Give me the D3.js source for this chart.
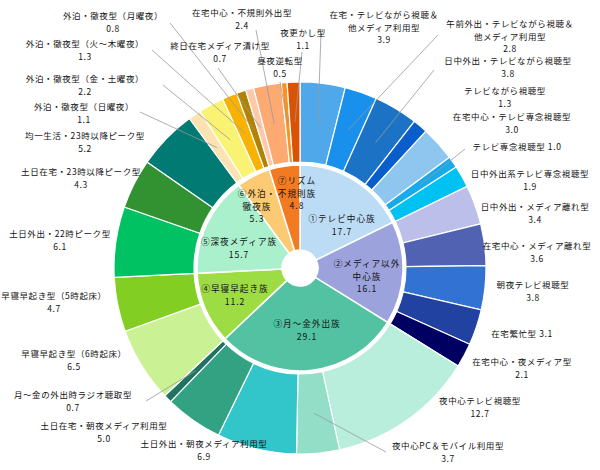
<!DOCTYPE html>
<html>
<head>
<meta charset="utf-8">
<script src="https://cdn.jsdelivr.net/npm/d3@7"></script>
<style>
  body { margin: 0; background: #fff; }
  text { font-family: "Noto Sans CJK JP", "Noto Sans", sans-serif; fill: #111; }
</style>
</head>
<body>
<div id="chart"></div>
<script>
// inner ring: 7 groups
const groupNames = ["①テレビ中心族", "②メディア以外|中心族", "③月～金外出族", "④早寝早起き族",
  "⑤深夜メディア族", "⑥外泊・|徹夜族", "⑦リズム|不規則族"];
const groupValues = [17.7, 16.1, 29.1, 11.2, 15.7, 5.3, 4.8];

// outer ring: 30 types
const leafNames = [
  "在宅・テレビながら視聴＆|他メディア利用型", "午前外出・テレビながら視聴＆|他メディア利用型",
  "日中外出・テレビながら視聴型", "テレビながら視聴型", "在宅中心・テレビ専念視聴型",
  "テレビ専念視聴型", "日中外出系テレビ専念視聴型",
  "日中外出・メディア離れ型", "在宅中心・メディア離れ型", "朝夜テレビ視聴型", "在宅繁忙型",
  "在宅中心・夜メディア型",
  "夜中心テレビ視聴型", "夜中心PC＆モバイル利用型", "土日外出・朝夜メディア利用型",
  "土日在宅・朝夜メディア利用型", "月～金の外出時ラジオ聴取型",
  "早寝早起き型（6時起床）", "早寝早起き型（5時起床）",
  "土日外出・22時ピーク型", "土日在宅・23時以降ピーク型", "均一生活・23時以降ピーク型",
  "外泊・徹夜型（日曜夜）", "外泊・徹夜型（金・土曜夜）", "外泊・徹夜型（火～木曜夜）", "外泊・徹夜型（月曜夜）",
  "終日在宅メディア漬け型", "在宅中心・不規則外出型", "昼夜逆転型", "夜更かし型"
];
const leafValues = [3.9, 2.8, 3.8, 1.3, 3.0, 1.0, 1.9,
  3.4, 3.6, 3.8, 3.1, 2.1,
  12.7, 3.7, 6.9, 5.0, 0.7,
  6.5, 4.7,
  6.1, 4.3, 5.2,
  1.1, 2.2, 1.3, 0.8,
  0.7, 2.4, 0.5, 1.1];

// colours
const groupColors = ["#bcdcf6", "#9ca2dc", "#52c2a2", "#9edc44", "#aaf0cc", "#fcca72", "#f27a22"];
const leafColors = [
  "#4ea8ea", "#1890ec", "#1c72c4", "#0a5ecc", "#8ec6f0", "#18aaea", "#00c2f2",
  "#bcbfea", "#5262b2", "#3272d2", "#2242a2", "#000062",
  "#baeedc", "#92dec6", "#32c6ca", "#32a282", "#207262",
  "#caf294", "#82ce22",
  "#00c262", "#329232", "#007a72",
  "#fde2b2", "#faf272", "#f8b202", "#b28202",
  "#fccaaa", "#fcaa72", "#fa9222", "#da5202"
];

// label layout: [x, y, inline value?]
const leafLabelPos = [
  [384, 16], [510, 25], [508, 62], [505, 92], [512, 118], [517, 148, true], [530, 175],
  [535, 208], [537, 247], [533, 286], [522, 335, true], [522, 363],
  [480, 402], [448, 447], [204, 445], [104, 427], [73, 396],
  [74, 355], [54, 297],
  [60, 235], [81, 173], [85, 137],
  [84, 108], [85, 80], [85, 45], [113, 17],
  [220, 47], [242, 14], [280, 62], [303, 34]
];
// leader line start points (index -> [x, y])
const leaderStart = {
  0: [321, 32], 1: [438, 35], 2: [434, 70], 5: [465, 149], 13: [386, 452], 16: [146, 401],
  22: [140, 112], 23: [163, 85], 24: [152, 50], 25: [170, 23],
  26: [218, 68], 27: [256, 30], 28: [280, 82], 29: [302, 52]
};
const groupLabelPos = [[342, 220], [367, 265], [307, 325], [235, 290], [239, 243], [257, 195], [297, 182]];

const width = 600, height = 470;
const cx = 300, cy = 268;
const lineH = 12.5;

const svg = d3.select("#chart").append("svg")
  .attr("width", width)
  .attr("height", height);

const g = svg.append("g").attr("transform", `translate(${cx},${cy})`);

const pie = d3.pie().sort(null).value(d => d);
const innerArcs = pie(groupValues);
const outerArcs = pie(leafValues);

const innerArc = d3.arc().innerRadius(18).outerRadius(103);
const outerArc = d3.arc().innerRadius(106).outerRadius(186);
const leaderArc = d3.arc().innerRadius(146).outerRadius(146);

g.selectAll(".inner")
  .data(innerArcs)
  .join("path")
  .attr("class", "inner")
  .attr("d", innerArc)
  .attr("fill", (d, i) => groupColors[i])
  .attr("stroke", "#fff")
  .attr("stroke-width", 1.5);

g.selectAll(".outer")
  .data(outerArcs)
  .join("path")
  .attr("class", "outer")
  .attr("d", outerArc)
  .attr("fill", (d, i) => leafColors[i])
  .attr("stroke", "#fff")
  .attr("stroke-width", 1.2);

// leader lines
Object.keys(leaderStart).forEach(k => {
  const i = +k;
  const [x0, y0] = leaderStart[i];
  const [x1, y1] = leaderArc.centroid(outerArcs[i]);
  svg.append("line")
    .attr("x1", x0).attr("y1", y0)
    .attr("x2", cx + x1).attr("y2", cy + y1)
    .attr("stroke", "#999")
    .attr("stroke-width", 0.8);
});

// one <text> per line
function block(x, y, lines, size, spacing) {
  lines.forEach((s, j) => {
    svg.append("text")
      .attr("x", x)
      .attr("y", y + j * lineH)
      .attr("text-anchor", "middle")
      .attr("dominant-baseline", "middle")
      .style("font-size", size)
      .style("letter-spacing", spacing)
      .text(s);
  });
}

// outer labels
leafNames.forEach((name, i) => {
  const [x, y, inline] = leafLabelPos[i];
  const lines = name.split("|");
  const val = leafValues[i].toFixed(1);
  if (inline) lines[lines.length - 1] += " " + val;
  else lines.push(val);
  block(x, y, lines, "8.5px", "0.6px");
});

// inner labels
groupNames.forEach((name, i) => {
  const [x, y] = groupLabelPos[i];
  const lines = name.split("|");
  lines.push(groupValues[i].toFixed(1));
  block(x, y, lines, "8.6px", "1px");
});
</script>
</body>
</html>
